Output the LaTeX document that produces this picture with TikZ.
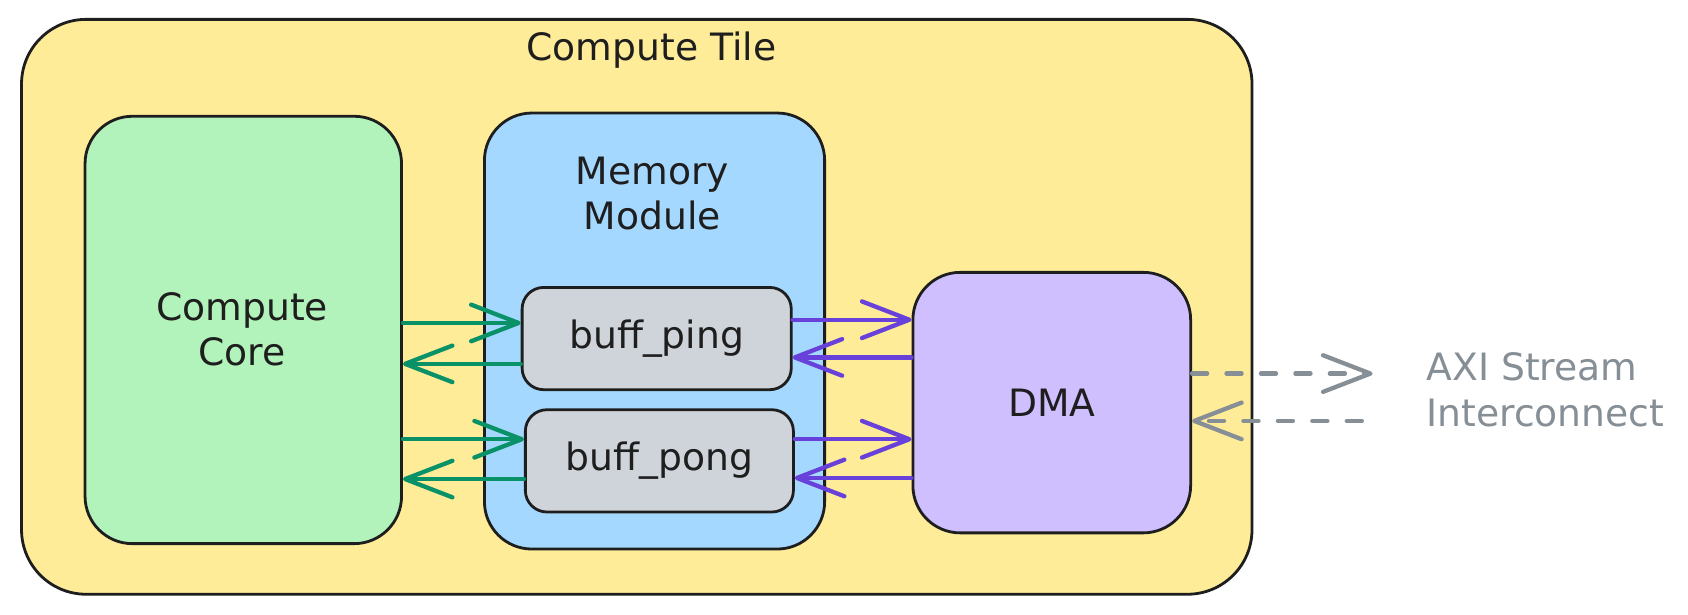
\documentclass[tikz,border=0pt]{standalone}
\usepackage{fontspec}
\setmainfont{DejaVu Sans}
\usetikzlibrary{positioning,arrows.meta,calc}

\definecolor{inkblack}{HTML}{1E1E1E}
\definecolor{tilefill}{HTML}{FFEC99}
\definecolor{corefill}{HTML}{B2F2BB}
\definecolor{memfill}{HTML}{A5D8FF}
\definecolor{bufffill}{HTML}{CED4DA}
\definecolor{dmafill}{HTML}{D0BFFF}
\definecolor{corearrow}{HTML}{099268}
\definecolor{dmaarrow}{HTML}{6741D9}
\definecolor{axigray}{HTML}{868E96}

\begin{document}
\begin{tikzpicture}[x=0.5pt,y=-0.5pt,
  box/.style={draw=inkblack, line width=1.3pt, inner sep=0pt, rounded corners=22pt},
  lbl/.style={font=\fontsize{17.5}{21}\selectfont, text=inkblack, align=center},
  barb/.style={line width=2pt, line cap=round, -{Straight Barb[length=22pt,width=17pt,round]}},
  corelink/.style={barb, draw=corearrow},
  dmalink/.style={barb, draw=dmaarrow},
  axilink/.style={barb, draw=axigray, dash pattern=on 7pt off 9pt}]

  \useasboundingbox (0,0) rectangle (1568,571);

  % boxes
  \node[box, fill=tilefill, rounded corners=30pt, minimum width=571.5pt, minimum height=267pt] (tile) at (591.5,285) {};
  \node[box, fill=corefill, minimum width=147pt, minimum height=198.5pt] (core) at (226,306.5) {};
  \node[box, fill=memfill, minimum width=158pt, minimum height=202.5pt] (mem) at (608,307.5) {};
  \node[box, fill=bufffill, rounded corners=10pt, minimum width=125pt, minimum height=47.5pt] (ping) at (610,314.5) {};
  \node[box, fill=bufffill, rounded corners=10pt, minimum width=124.5pt, minimum height=47.5pt] (pong) [below=8pt of ping, xshift=1.25pt] {};
  \node[box, fill=dmafill, minimum width=129pt, minimum height=121pt] (dma) at (977,374) {};

  % labels
  \node[lbl] (tilelbl) at (605,47) {Compute Tile};
  \node[lbl] (corelbl) at (225,306) {Compute\\Core};
  \node[lbl] (memlbl) at (606,180) {Memory\\Module};
  \node[lbl] (pinglbl) at (ping) {buff\_ping};
  \node[lbl] (ponglbl) at (pong) {buff\_pong};
  \node[lbl] (dmalbl) at (dma) {DMA};
  \node[lbl, text=axigray, align=left, anchor=west] (axilbl) at (1318,362) {AXI Stream\\Interconnect};

  % free ends towards the interconnect
  \coordinate (axiin) at (1275,347);
  \coordinate (axiout) at (1265,391);

  % core <-> buffers
  \path (core.east |- 0,300) edge[corelink] (ping.west |- 0,300);
  \path (ping.west |- 0,338) edge[corelink] (core.east |- 0,338);
  \path (core.east |- 0,408) edge[corelink] (pong.west |- 0,408);
  \path (pong.west |- 0,445) edge[corelink] (core.east |- 0,445);

  % buffers <-> dma
  \path (ping.east |- 0,297) edge[dmalink] (dma.west |- 0,297);
  \path (dma.west |- 0,332) edge[dmalink] (ping.east |- 0,332);
  \path (pong.east |- 0,408) edge[dmalink] (dma.west |- 0,408);
  \path (dma.west |- 0,444) edge[dmalink] (pong.east |- 0,444);

  % dma <-> stream interconnect
  \path (dma.east |- axiin) edge[axilink] (axiin);
  \path (axiout) edge[axilink] (dma.east |- axiout);

\end{tikzpicture}
\end{document}
